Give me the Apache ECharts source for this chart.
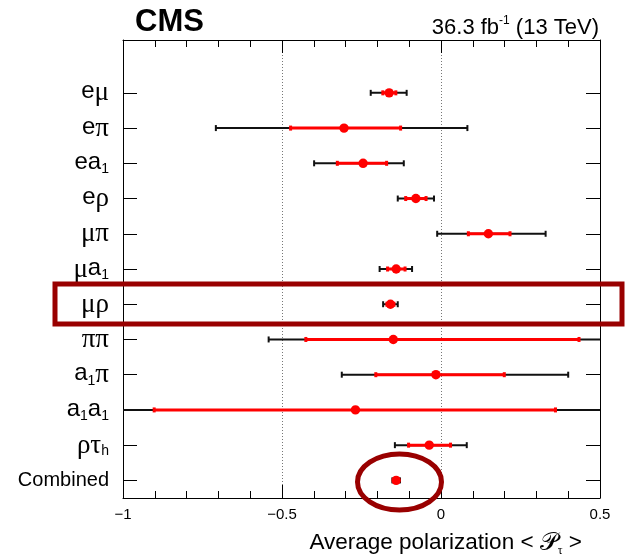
<!DOCTYPE html>
<html><head><meta charset="utf-8">
<script src="https://cdn.jsdelivr.net/npm/echarts@6/dist/echarts.min.js"></script>
<style>html,body{margin:0;padding:0;background:#fff}#c{width:625px;height:556px}</style>
</head><body><div id="c"></div><script>
// Rows listed top to bottom
const categories = ['eμ','eπ','ea_1','eρ','μπ','μa_1','μρ','ππ','a_1π','a_1a_1','ρτ_h','Combined'];
const central  = [-0.163,-0.305,-0.245,-0.079, 0.149,-0.141,-0.159,-0.150,-0.016,-0.269,-0.037,-0.141];
const statLow  = [-0.183,-0.473,-0.326,-0.111, 0.086,-0.168,-0.170,-0.425,-0.205,-0.902,-0.102,-0.148];
const statHigh = [-0.142,-0.127,-0.171,-0.047, 0.217,-0.113,-0.148, 0.434, 0.199, 0.360, 0.030,-0.134];
const totLow   = [-0.221,-0.708,-0.399,-0.136,-0.012,-0.193,-0.182,-0.542,-0.312,-1.100,-0.145,-0.153];
const totHigh  = [-0.108, 0.083,-0.117,-0.022, 0.329,-0.091,-0.136, 0.620, 0.400, 0.650, 0.081,-0.129];
const xTickLabels = ['−1','−0.5','0','0.5'];

const yCats = categories.slice().reverse().concat(['']);
const n = categories.length;
const seriesData = categories.map((c, i) => [central[i], n - 1 - i, statLow[i], statHigh[i], totLow[i], totHigh[i]]);

function richLabel(s) {
  if (s === '') return '';
  if (s === 'Combined') return '{c|Combined}';
  let out = '';
  for (let i = 0; i < s.length; i++) {
    const ch = s[i];
    if (ch === '_') { out += '{s|' + s[i + 1] + '}'; i++; }
    else if (/[a-zA-Z]/.test(ch)) out += '{r|' + ch + '}';
    else out += '{g|' + ch + '}';
  }
  return out;
}
const DARK = '#990000';
const chart = echarts.init(document.getElementById('c'), null, {renderer: 'canvas'});
const xMap = v => { const idx = [-1, -0.5, 0, 0.5].indexOf(Math.round(v * 10) / 10); return idx >= 0 ? xTickLabels[idx] : ''; };
const baseX = {
  type: 'value', min: -1, max: 0.5, interval: 0.5,
  axisLine: {show: true, onZero: false, lineStyle: {color: '#000', width: 1}},
  axisTick: {show: true, inside: true, length: 13, lineStyle: {color: '#000', width: 1}},
  minorTick: {show: true, splitNumber: 5, length: 7, lineStyle: {color: '#000', width: 1}},
};
const baseY = {
  type: 'category', data: yCats, boundaryGap: true,
  axisLine: {show: true, onZero: false, lineStyle: {color: '#000', width: 1}},
  axisTick: {show: true, inside: true, length: 14, alignWithLabel: true,
    interval: (idx, val) => val !== '', lineStyle: {color: '#000', width: 1}},
  splitLine: {show: false}
};
chart.setOption({
  animation: false,
  backgroundColor: '#fff',
  grid: {left: 123, right: 25, top: 40, bottom: 58, containLabel: false},
  xAxis: [
    Object.assign({}, baseX, {position: 'bottom',
      axisLabel: {show: true, margin: 9, fontFamily: 'Liberation Sans', fontSize: 15, color: '#000', formatter: xMap},
      splitLine: {show: true, lineStyle: {color: '#777', type: [1, 2], width: 1}}}),
    Object.assign({}, baseX, {position: 'top', axisLabel: {show: false}, splitLine: {show: false}})
  ],
  yAxis: [
    Object.assign({}, baseY, {position: 'left',
      axisLabel: {show: true, margin: 14, interval: 0, formatter: richLabel,
        rich: {
          r: {fontFamily: 'Liberation Sans', fontSize: 24, color: '#000', lineHeight: 26, verticalAlign: 'top'},
          g: {fontFamily: 'Liberation Serif', fontSize: 27, color: '#000', lineHeight: 26, verticalAlign: 'top'},
          s: {fontFamily: 'Liberation Sans', fontSize: 14, color: '#000', lineHeight: 14, padding: [18, 0, 0, 0], verticalAlign: 'bottom'},
          c: {fontFamily: 'Liberation Sans', fontSize: 20, color: '#000', lineHeight: 26}
        }}}),
    Object.assign({}, baseY, {position: 'right', axisLabel: {show: false}})
  ],
  series: [{
    type: 'custom',
    clip: true,
    encode: {x: 0, y: 1},
    data: seriesData,
    renderItem: function (params, api) {
      const yi = api.value(1);
      const c = api.coord([api.value(0), yi]);
      const sl = api.coord([api.value(2), yi]);
      const sh = api.coord([api.value(3), yi]);
      const tl = api.coord([api.value(4), yi]);
      const th = api.coord([api.value(5), yi]);
      const y = c[1];
      const blk = {stroke: '#111', lineWidth: 2};
      const red = {stroke: '#ff0000', lineWidth: 3};
      return {
        type: 'group',
        children: [
          {type: 'line', shape: {x1: tl[0], y1: y, x2: th[0], y2: y}, style: blk},
          {type: 'line', shape: {x1: tl[0], y1: y - 3, x2: tl[0], y2: y + 3}, style: blk},
          {type: 'line', shape: {x1: th[0], y1: y - 3, x2: th[0], y2: y + 3}, style: blk},
          {type: 'line', shape: {x1: sl[0], y1: y, x2: sh[0], y2: y}, style: red},
          {type: 'rect', shape: {x: sl[0] - 1.5, y: y - 2.5, width: 3, height: 5}, style: {fill: '#ff0000'}},
          {type: 'rect', shape: {x: sh[0] - 1.5, y: y - 2.5, width: 3, height: 5}, style: {fill: '#ff0000'}},
          {type: 'circle', shape: {cx: c[0], cy: y, r: 4.7}, style: {fill: '#ff0000'}}
        ]
      };
    }
  }],
  graphic: [
    {type: 'text', left: 135, top: 7, style: {text: 'CMS', fontFamily: 'Liberation Sans', fontWeight: 'bold', fontSize: 31, fill: '#000'}},
    {type: 'text', z: 10, style: {
      x: 599, y: 39, align: 'right', verticalAlign: 'bottom',
      text: '{a|36.3 fb}{b|-1}{a| (13 TeV)}',
      rich: {a: {fontFamily: 'Liberation Sans', fontSize: 22, fill: '#000', lineHeight: 24, verticalAlign: 'bottom'},
             b: {fontFamily: 'Liberation Sans', fontSize: 12, fill: '#000', lineHeight: 12, padding: [0, 0, 12, 0], verticalAlign: 'top'}}}},
    {type: 'text', z: 10, style: {
      x: 582, y: 557, align: 'right', verticalAlign: 'bottom',
      text: '{a|Average polarization < }{p|𝒫}{s|τ}{a| >}',
      rich: {a: {fontFamily: 'Liberation Sans', fontSize: 22.5, fill: '#000', lineHeight: 26, verticalAlign: 'top'},
             p: {fontFamily: 'DejaVu Serif', fontSize: 25, fill: '#000', lineHeight: 26, verticalAlign: 'top'},
             s: {fontFamily: 'Liberation Serif', fontSize: 12, fill: '#000', lineHeight: 12, padding: [16, 0, 0, 0], verticalAlign: 'bottom'}}}},
    {type: 'rect', z: 20, shape: {x: 55, y: 284, width: 567, height: 40},
      style: {fill: 'none', stroke: DARK, lineWidth: 5}},
    {type: 'ellipse', z: 20, shape: {cx: 399.5, cy: 482, rx: 42, ry: 28},
      style: {fill: 'none', stroke: DARK, lineWidth: 5}}
  ]
});
</script></body></html>
